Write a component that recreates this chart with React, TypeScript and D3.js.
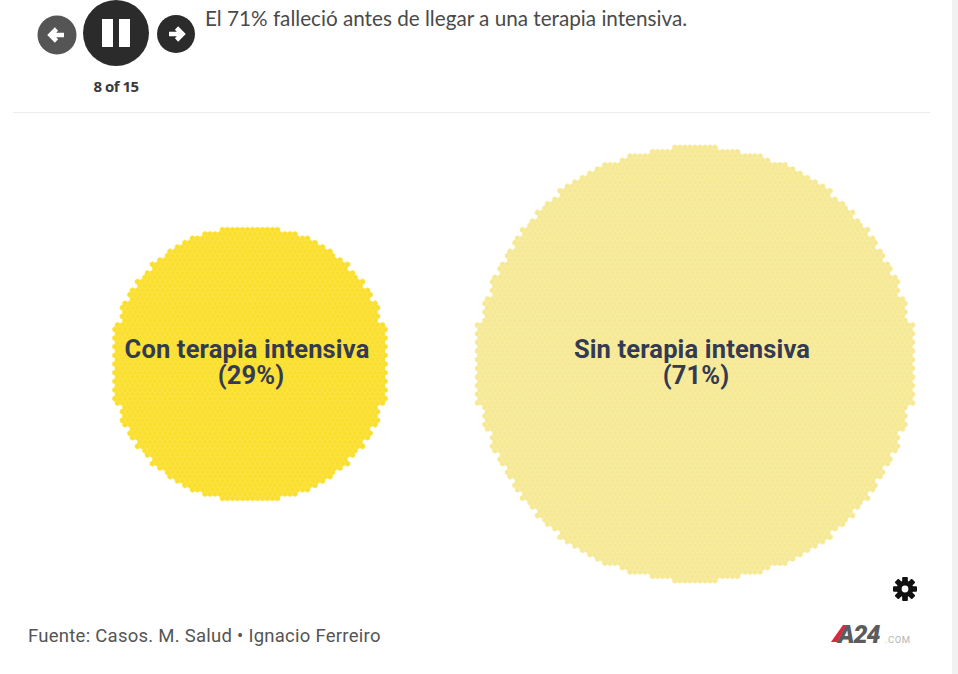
import { useEffect, useRef } from "react";
import * as d3 from "d3";

const categories = ["Con terapia intensiva", "Sin terapia intensiva"];
const shares = [29, 71];
const colors = ["#fbdf2f", "#f6e996"];
const cellEdges = ["#fce54f", "#f8eca6"];

const title = "El 71% falleció antes de llegar a una terapia intensiva.";
const stepLabel = "8 of 15";
const source = "Fuente: Casos. M. Salud • Ignacio Ferreiro";

const width = 958;
const height = 674;
const cellSize = 5;

// hexagon outline around one lattice cell
function hexPath(cx: number, cy: number, r: number) {
  const pts = d3.range(6).map((i) => {
    const a = Math.PI / 6 + (i * Math.PI) / 3;
    return [cx + r * Math.cos(a), cy + r * Math.sin(a)] as [number, number];
  });
  return `M${pts.map((p) => `${p[0].toFixed(2)},${p[1].toFixed(2)}`).join("L")}Z`;
}

export default function App() {
  const svgRef = useRef<SVGSVGElement>(null);

  useEffect(() => {
    if (!svgRef.current) return;
    const svg = d3.select(svgRef.current);
    svg.selectAll("*").remove();

    svg.append("rect").attr("width", width).attr("height", height).attr("fill", "#ffffff");
    svg.append("rect").attr("x", 952).attr("width", 6).attr("height", height).attr("fill", "#f1f1f1");

    // player controls
    const controls = svg.append("g");
    controls.append("circle").attr("cx", 57).attr("cy", 35).attr("r", 19.5).attr("fill", "#555555");
    controls.append("circle").attr("cx", 116).attr("cy", 33).attr("r", 33).attr("fill", "#2b2b2b");
    controls.append("circle").attr("cx", 176).attr("cy", 34).attr("r", 19).attr("fill", "#2b2b2b");
    controls.append("rect").attr("x", 102).attr("y", 19).attr("width", 11).attr("height", 28).attr("fill", "#fff");
    controls.append("rect").attr("x", 119).attr("y", 19).attr("width", 11).attr("height", 28).attr("fill", "#fff");
    controls
      .append("path")
      .attr("d", "M64,35H51M56.5,29L50.5,35L56.5,41")
      .attr("fill", "none")
      .attr("stroke", "#fff")
      .attr("stroke-width", 4.6);
    controls
      .append("path")
      .attr("d", "M169,34H182M176.5,28L182.5,34L176.5,40")
      .attr("fill", "none")
      .attr("stroke", "#fff")
      .attr("stroke-width", 4.6);

    svg
      .append("text")
      .attr("x", 116)
      .attr("y", 92)
      .attr("text-anchor", "middle")
      .attr("font-family", "'Open Sans', sans-serif")
      .attr("font-weight", 700)
      .attr("font-size", 15)
      .attr("letter-spacing", -0.5)
      .attr("fill", "#3a3a3a")
      .text(stepLabel);

    svg
      .append("text")
      .attr("x", 205)
      .attr("y", 26)
      .attr("font-family", "Lato, sans-serif")
      .attr("font-size", 20.7)
      .attr("fill", "#4a4a4a")
      .text(title);

    svg
      .append("line")
      .attr("x1", 13)
      .attr("x2", 930)
      .attr("y1", 112.5)
      .attr("y2", 112.5)
      .attr("stroke", "#ececec");

    // bubbles: area follows the share, so radius is on a sqrt scale
    const x = d3.scalePoint<string>().domain(categories).range([250, 695]);
    const radius = d3.scaleSqrt().domain([0, 71]).range([0, 220]);
    const cy = 364;
    const rowStep = cellSize * 0.866;
    const edgeStep = cellSize * 1.5; // coarse row ends give the stepped rim

    categories.forEach((cat, i) => {
      const cx = x(cat)!;
      const r = radius(shares[i]) - cellSize / 2;
      let d = "";
      d3.range(-Math.ceil(r / rowStep), Math.ceil(r / rowStep) + 1).forEach((row) => {
        const py = row * rowStep;
        if (Math.abs(py) > r) return;
        const offset = Math.abs(row) % 2 === 1 ? cellSize / 2 : 0;
        const reach = Math.round(Math.sqrt(r * r - py * py) / edgeStep) * edgeStep;
        const n = Math.ceil(r / cellSize) + 1;
        d3.range(-n, n + 1).forEach((col) => {
          const px = col * cellSize + offset;
          if (Math.abs(px) <= reach) {
            d += hexPath(cx + px, cy + py, cellSize / Math.sqrt(3));
          }
        });
      });
      svg
        .append("path")
        .attr("d", d)
        .attr("fill", colors[i])
        .attr("stroke", cellEdges[i])
        .attr("stroke-width", 0.5);

      const label = svg
        .append("text")
        .attr("text-anchor", "middle")
        .attr("font-family", "Roboto, sans-serif")
        .attr("font-weight", 700)
        .attr("font-size", 25.5)
        .attr("letter-spacing", 0.15)
        .attr("fill", "#343a52");
      label.append("tspan").attr("x", cx - 3).attr("y", 358).text(cat);
      label.append("tspan").attr("x", cx + 1).attr("y", 384).text(`(${shares[i]}%)`);
    });

    // gear icon
    const gear = svg.append("g").attr("transform", "translate(905,589)");
    d3.range(8).forEach((i) => {
      gear
        .append("rect")
        .attr("x", -2.6)
        .attr("y", -12)
        .attr("width", 5.2)
        .attr("height", 24)
        .attr("rx", 1)
        .attr("fill", "#111")
        .attr("transform", `rotate(${i * 45})`);
    });
    gear.append("circle").attr("r", 5.8).attr("fill", "none").attr("stroke", "#111").attr("stroke-width", 5);
    gear.append("circle").attr("r", 3.4).attr("fill", "#fff");

    svg
      .append("text")
      .attr("x", 28)
      .attr("y", 642)
      .attr("font-family", "Roboto, sans-serif")
      .attr("font-size", 18.5)
      .attr("letter-spacing", 0.26)
      .attr("fill", "#555555")
      .text(source);

    // A24.com logo
    svg.append("path").attr("d", "M831,642L843,625H847L838,642Z").attr("fill", "#d8283a");
    svg
      .append("text")
      .attr("x", 838)
      .attr("y", 643)
      .attr("font-family", "Roboto, sans-serif")
      .attr("font-style", "italic")
      .attr("font-weight", 900)
      .attr("font-size", 25)
      .attr("letter-spacing", -1)
      .attr("fill", "#5c5c5c")
      .text("A24");
    svg
      .append("text")
      .attr("x", 885)
      .attr("y", 643)
      .attr("font-family", "Roboto, sans-serif")
      .attr("font-size", 9.5)
      .attr("letter-spacing", 0.5)
      .attr("fill", "#b5b5b5")
      .text(".COM");
  }, []);

  return (
    <svg
      ref={svgRef}
      width={width}
      height={height}
      style={{ position: "absolute", left: 0, top: 0, display: "block" }}
    />
  );
}
